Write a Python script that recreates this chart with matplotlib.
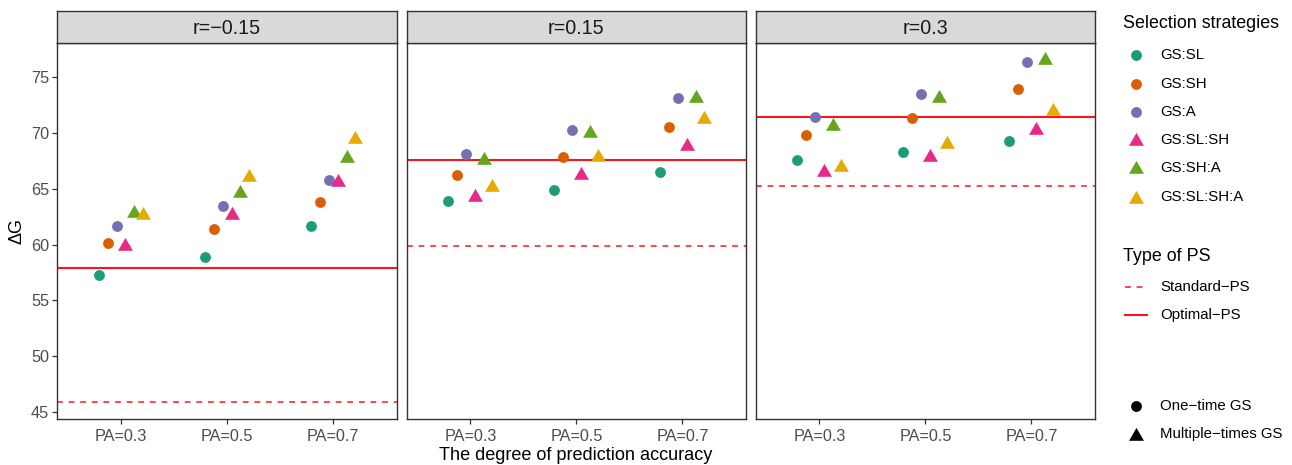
import numpy as np
import matplotlib
matplotlib.use("Agg")
import matplotlib.pyplot as plt
from matplotlib.path import Path

plt.rcParams['font.family'] = ['Liberation Sans', 'DejaVu Sans']

# ---------------- data ----------------
panels = ["r=\u22120.15", "r=0.15", "r=0.3"]
pa_labels = ["PA=0.3", "PA=0.5", "PA=0.7"]
strategies = ["GS:SL", "GS:SH", "GS:A", "GS:SL:SH", "GS:SH:A", "GS:SL:SH:A"]
strategy_colors = ["#1B9E77", "#D95F02", "#7570B3", "#E7298A", "#66A61E", "#E6AB02"]
strategy_multi = [False, False, False, True, True, True]

# values[panel][strategy] -> per PA
vals_r_m015 = [
    [57.25, 58.9, 61.65],   # GS:SL
    [60.1, 61.4, 63.85],    # GS:SH
    [61.65, 63.45, 65.75],  # GS:A
    [59.85, 62.6, 65.6],    # GS:SL:SH
    [62.85, 64.65, 67.75],  # GS:SH:A
    [62.6, 66.0, 69.45],    # GS:SL:SH:A
]
vals_r_015 = [
    [63.9, 64.85, 66.5],
    [66.2, 67.85, 70.55],
    [68.1, 70.25, 73.1],
    [64.25, 66.25, 68.8],
    [67.6, 70.0, 73.15],
    [65.15, 67.8, 71.25],
]
vals_r_03 = [
    [67.6, 68.3, 69.3],
    [69.8, 71.35, 73.9],
    [71.4, 73.5, 76.35],
    [66.5, 67.85, 70.25],
    [70.6, 73.15, 76.5],
    [66.9, 69.0, 71.95],
]
panel_values = [vals_r_m015, vals_r_015, vals_r_03]
optimal_ps = [57.9, 67.55, 71.4]
standard_ps = [45.9, 59.85, 65.25]

# ---------------- layout ----------------
W, H = 1292, 465
fig = plt.figure(figsize=(W / 100, H / 100), dpi=100)

def rect(l, t, r, b):
    return [l / W, 1 - b / H, (r - l) / W, (b - t) / H]

panel_x = [(57.3, 397.0), (406.7, 746.0), (755.7, 1095.0)]
p_top, p_bot = 43.3, 419.0
s_top = 11.0

# equilateral triangle centered on its centroid (like R pch 17)
tri = Path([(0, 1.155), (-1, -0.577), (1, -0.577), (0, 1.155)],
           [Path.MOVETO, Path.LINETO, Path.LINETO, Path.CLOSEPOLY])

dodge = 0.5
n = len(strategies)
offsets = [-dodge / 2 + dodge / (2 * n) * (2 * i + 1) for i in range(n)]
edge = "#333333"
red = "#F8171B"

for pi, (l, r) in enumerate(panel_x):
    ax = fig.add_axes(rect(l, p_top, r, p_bot))
    ax.set_xlim(0.4, 3.6)
    ax.set_ylim(44.4, 78.0)
    xs = np.arange(1, 4)
    ax.axhline(optimal_ps[pi], color=red, lw=1.5, zorder=1)
    ax.axhline(standard_ps[pi], color=red, lw=1.1, ls=(0, (3.8, 3.8)), zorder=1)
    for si in range(n):
        if strategy_multi[si]:
            ax.plot(xs + offsets[si], panel_values[pi][si], ls='none', marker=tri,
                    markersize=12.4, color=strategy_colors[si], markeredgewidth=0, zorder=3)
        else:
            ax.plot(xs + offsets[si], panel_values[pi][si], ls='none', marker='o',
                    markersize=7.8, color=strategy_colors[si], markeredgewidth=0, zorder=3)
    ax.set_xticks(xs)
    ax.set_xticklabels(pa_labels, fontsize=11.7, color="#4D4D4D")
    ax.tick_params(axis='x', length=3.5, width=0.9, color=edge, pad=3.5)
    ax.tick_params(axis='y', length=3.5, width=0.9, color=edge, pad=2.5)
    if pi == 0:
        ax.set_yticks([45, 50, 55, 60, 65, 70, 75])
        ax.set_yticklabels(["45", "50", "55", "60", "65", "70", "75"], fontsize=11.7, color="#4D4D4D")
    else:
        ax.set_yticks([])
    for sp in ax.spines.values():
        sp.set_color(edge)
        sp.set_linewidth(1.0)
    # strip
    sax = fig.add_axes(rect(l, s_top, r, p_top))
    sax.set_facecolor("#D9D9D9")
    sax.set_xticks([]); sax.set_yticks([])
    for sp in sax.spines.values():
        sp.set_color(edge)
        sp.set_linewidth(1.0)
    sax.text(0.5, 0.47, panels[pi], transform=sax.transAxes, ha='center', va='center',
             fontsize=14.2, color="#1A1A1A")

# axis titles
fig.text(576 / W, 1 - 455 / H, "The degree of prediction accuracy", ha='center', va='center',
         fontsize=13.1, color="black")
fig.text(17 / W, 1 - 231 / H, "\u0394G", ha='center', va='center', rotation=90,
         fontsize=13.1, color="black")

# legends drawn manually
lax = fig.add_axes([0, 0, 1, 1], facecolor='none')
lax.set_xlim(0, W); lax.set_ylim(H, 0); lax.axis('off')
tx_title = 1123
tx_sym = 1136
tx_lab = 1160
lax.text(tx_title, 24, "Selection strategies", fontsize=12.9, va='center', ha='left')
ys = [55, 84, 112, 140, 168, 197]
for si in range(n):
    if strategy_multi[si]:
        lax.plot([tx_sym], [ys[si] + 1.5], marker=tri, markersize=12.4, ls='none',
                 color=strategy_colors[si], markeredgewidth=0)
    else:
        lax.plot([tx_sym], [ys[si]], marker='o', markersize=7.8, ls='none',
                 color=strategy_colors[si], markeredgewidth=0)
    lax.text(tx_lab, ys[si], strategies[si], fontsize=10.8, va='center', ha='left')

lax.text(tx_title, 256, "Type of PS", fontsize=12.9, va='center', ha='left')
lax.plot([1125, 1147], [287, 287], color=red, lw=1.1, ls=(0, (3.8, 3.8)))
lax.text(tx_lab, 287, "Standard\u2212PS", fontsize=10.8, va='center', ha='left')
lax.plot([1125, 1147], [315, 315], color=red, lw=1.5)
lax.text(tx_lab, 315, "Optimal\u2212PS", fontsize=10.8, va='center', ha='left')

lax.plot([tx_sym], [406], marker='o', markersize=7.8, ls='none', color='black', markeredgewidth=0)
lax.text(tx_lab, 406, "One\u2212time GS", fontsize=10.8, va='center', ha='left')
lax.plot([tx_sym], [435.5], marker=tri, markersize=12.4, ls='none', color='black', markeredgewidth=0)
lax.text(tx_lab, 434, "Multiple\u2212times GS", fontsize=10.8, va='center', ha='left')

fig.savefig("out.png", dpi=100)
